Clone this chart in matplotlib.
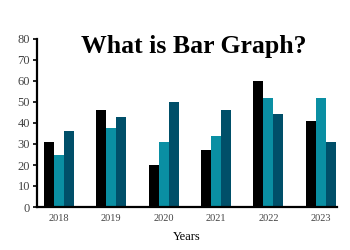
import numpy as np
from matplotlib import pyplot as plt

years = ['2018', '2019', '2020', '2021', '2022', '2023']
series_a = [31, 46, 20, 27, 60, 41]
series_b = [25, 37.5, 31, 34, 52, 52]
series_c = [36, 43, 50, 46, 44.5, 31]

colors = ['#000000', '#0a8fa3', '#004f69']

plt.rcParams['font.family'] = ['Liberation Serif', 'DejaVu Serif']

fig = plt.figure(figsize=(3.5, 2.5), dpi=100)
ax = fig.add_axes([37 / 350, 43 / 250, 300 / 350, 168 / 250])

x = np.arange(len(years))
w = 0.19
for i, vals in enumerate([series_a, series_b, series_c]):
    ax.bar(x + (i - 1) * w, vals, width=w, color=colors[i])

ax.set_xlim(-0.42, 5.31)
ax.set_ylim(0, 80)
ax.set_yticks(range(0, 81, 10))
ax.set_xticks(x)
ax.set_xticklabels(years)

for s in ['top', 'right']:
    ax.spines[s].set_visible(False)
for s in ['left', 'bottom']:
    ax.spines[s].set_linewidth(1.6)

ax.tick_params(axis='y', length=3, width=1.2, labelsize=9, labelcolor='#444444', pad=2)
ax.tick_params(axis='x', length=0, labelsize=7.5, labelcolor='#444444', pad=5)
ax.set_xlabel('Years', fontsize=9, labelpad=6)

fig.text(194 / 350, 1 - 47 / 250, 'What is Bar Graph?', ha='center', va='center',
         fontsize=18.5, fontweight='bold')

plt.savefig('out.png', dpi=100)
